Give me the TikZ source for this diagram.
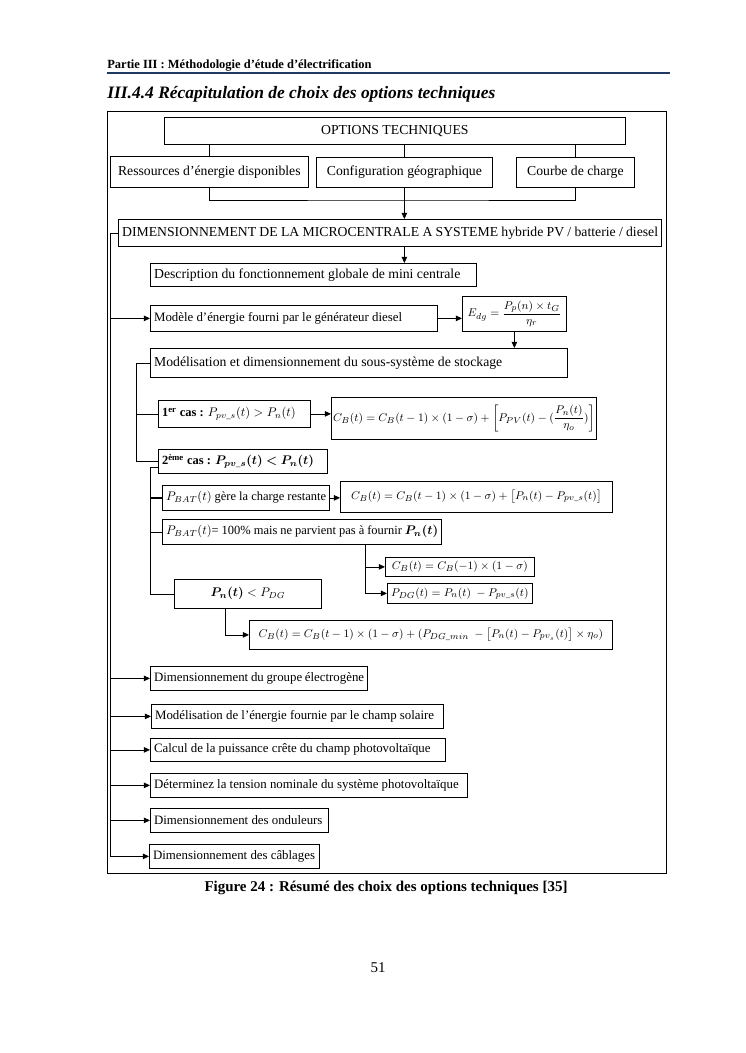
\documentclass[tikz,border=0pt]{standalone}
\usepackage{fontspec}
\setmainfont{Liberation Serif}
\usepackage{amsmath,bm}
\usetikzlibrary{arrows.meta}
\definecolor{bleuligne}{RGB}{31,56,100}
\newlength{\pixlen}
\setlength{\pixlen}{0.28188mm}
\tikzset{
  fleche/.style={-{Triangle[length=5pt,width=4.5pt]}},
  boite/.style={draw, anchor=north west, inner xsep=3pt, inner ysep=1pt, font=\fontsize{10.3}{12}\selectfont},
  cadre/.style={draw, anchor=north west, inner sep=1pt, align=center, font=\fontsize{11}{13}\selectfont},
  formule/.style={draw, anchor=north west, inner sep=1pt, font=\fontsize{9.5}{11}\selectfont},
  larg/.style={execute at begin node={\hbox to #1\pixlen\bgroup}, execute at end node={\hfil\egroup}},
  taille/.style 2 args={minimum width=#1\pixlen, minimum height=#2\pixlen},
}

\begin{document}
\begin{tikzpicture}[x=0.28188mm, y=-0.28188mm, line width=0.6pt]
\useasboundingbox (0,0) rectangle (745,1053);

% en-tete de page
\node[anchor=base west, inner sep=0pt, font=\fontsize{10}{12}\selectfont\bfseries] (entete) at (107,69) {Partie III : Méthodologie d'étude d'électrification};
\draw[bleuligne, line width=1.5pt] (107,73) -- (670,73);
\node[anchor=base west, inner sep=0pt, font=\fontsize{14}{16}\selectfont\bfseries\itshape] (titre) at (107,99) {III.4.4 Récapitulation de choix des options techniques};

% cadre de la figure
\draw (107,111) rectangle (666,873);

% options
\node[cadre, taille={461}{27}] (opt) at (164,117) {OPTIONS TECHNIQUES};
\node[cadre, taille={198}{31}] (res) at (110,156) {Ressources d'énergie disponibles};
\node[cadre, taille={176}{30}] (conf) at (316,157) {Configuration géographique};
\node[cadre, taille={118}{30}] (courbe) at (516,157) {Courbe de charge};
\node[boite, larg=536, taille={0}{27}, font=\fontsize{11}{13}\selectfont] (dim) at (118,219) {DIMENSIONNEMENT DE LA MICROCENTRALE A SYSTEME hybride PV / batterie / diesel};

\foreach \n in {res, conf, courbe}
  \draw (opt.south -| \n.north) -- (\n.north);
\coordinate (jonc) at (404,200);
\draw (res.south) |- (jonc) -| (courbe.south);
\draw[fleche] (conf.south) -- (conf.south |- dim.north);

% dimensionnement
\node[boite, larg=319, taille={0}{23}, font=\fontsize{11}{13}\selectfont] (desc) at (150,263) {Description du fonctionnement globale de mini centrale};
\node[boite, larg=280, taille={0}{26}] (modele) at (150,305) {Modèle d'énergie fourni par le générateur diesel};
\node[formule, taille={104}{35}] (edg) at (462,296) {$E_{dg}=\dfrac{P_p(n)\times t_G}{\eta_r}$};
\node[boite, larg=410, taille={0}{29}, font=\fontsize{11}{13}\selectfont] (modst) at (150,348) {Modélisation et dimensionnement du sous-système de stockage};
\draw[fleche] (conf.south |- dim.south) -- (conf.south |- desc.north);
\draw[fleche] (modele.east) -- (modele.east -| edg.west);
\draw[fleche] (edg.south) -- (edg.south |- modst.north);

% stockage
\node[boite, larg=145, taille={0}{27}, font=\fontsize{10}{12}\selectfont] (cas1) at (158,400) {\textbf{1\textsuperscript{er} cas :} $P_{pv\_s}(t)>P_n(t)$};
\node[formule, taille={265}{42}] (f1) at (331,397) {$C_B(t)=C_B(t-1)\times(1-\sigma)+\left[P_{PV}(t)-(\dfrac{P_n(t)}{\eta_o})\right]$};
\node[boite, larg=162, taille={0}{24}, font=\fontsize{10}{12}\selectfont] (cas2) at (158,449) {\textbf{2\textsuperscript{ème} cas :} $\bm{P_{pv\_s}(t)<P_n(t)}$};
\node[boite, larg=160, taille={0}{25}, font=\fontsize{10}{12}\selectfont] (bat1) at (162,485) {$P_{BAT}(t)$ gère la charge restante};
\node[formule, taille={272}{31}] (f2) at (340,481) {$C_B(t)=C_B(t-1)\times(1-\sigma)+\big[P_n(t)-P_{pv\_s}(t)\big]$};
\node[boite, larg=272, taille={0}{25}, font=\fontsize{10}{12}\selectfont] (bat2) at (162,519) {$P_{BAT}(t)$= 100\% mais ne parvient pas à fournir $\bm{P_n(t)}$};
\node[formule, taille={149}{19}] (f3) at (385,557) {$C_B(t)=C_B(-1)\times(1-\sigma)$};
\node[formule, taille={145}{20}] (f4) at (387,583) {$P_{DG}(t)=P_n(t)\ -P_{pv\_s}(t)$};
\node[formule, taille={147}{29}, font=\fontsize{10}{12}\selectfont] (pdg) at (174,579) {$\bm{P_n(t)}<P_{DG}$};
\node[formule, taille={363}{29}] (f5) at (249,620) {$C_B(t)=C_B(t-1)\times(1-\sigma)+(P_{DG\_min}\ -\big[P_n(t)-P_{pv_s}(t)\big]\times\eta_o)$};

\coordinate (br1) at (136,0);
\coordinate (br2) at (150,0);
\coordinate (br3) at (365,0);
\coordinate (br4) at (225,0);
\draw (modst.west) -| (br1 |- cas2.west) -- (cas2.west);
\draw (br1 |- cas1.west) -- (cas1.west);
\draw[fleche] (cas1.east) -- (cas1.east -| f1.west);
\draw ([yshift=-5pt]cas2.west) -| (br2 |- pdg.west) -- (pdg.west);
\draw[line width=1.3pt] (br2 |- bat1.west) -- (bat1.west);
\draw (br2 |- bat2.west) -- (bat2.west);
\draw[fleche] (bat1.east) -- (bat1.east -| f2.west);
\draw[fleche] (br3 |- bat2.south) |- (f4.west);
\draw[fleche] (br3 |- f3.west) -- (f3.west);
\draw[fleche] (br4 |- pdg.south) |- (f5.west);

% suite du dimensionnement
\node[boite, larg=210, taille={0}{24}] (groupe) at (150,666) {Dimensionnement du groupe électrogène};
\node[boite, larg=285, taille={0}{24}] (solaire) at (151,704) {Modélisation de l'énergie fournie par le champ solaire};
\node[boite, larg=288, taille={0}{23}] (crete) at (150,738) {Calcul de la puissance crête du champ photovoltaïque};
\node[boite, larg=310, taille={0}{24}] (tension) at (150,773) {Déterminez la tension nominale du système photovoltaïque};
\node[boite, larg=171, taille={0}{24}] (ond) at (150,808) {Dimensionnement des onduleurs};
\node[boite, larg=163, taille={0}{24}] (cab) at (149,844) {Dimensionnement des câblages};

\coordinate (bus) at (110,0);
\draw (dim.west) -| (bus |- cab.west);
\foreach \b in {modele, groupe, solaire, crete, tension, ond, cab}
  \draw[fleche] (bus |- \b.west) -- (\b.west);

% legende
\node[anchor=base, inner sep=0pt, font=\fontsize{12}{14}\selectfont\bfseries] (legende) at (386,891) {Figure 24 : Résumé des choix des options techniques [35]};
\node[anchor=base, inner sep=0pt, font=\fontsize{12}{14}\selectfont] (page) at (378,972) {51};
\end{tikzpicture}
\end{document}
